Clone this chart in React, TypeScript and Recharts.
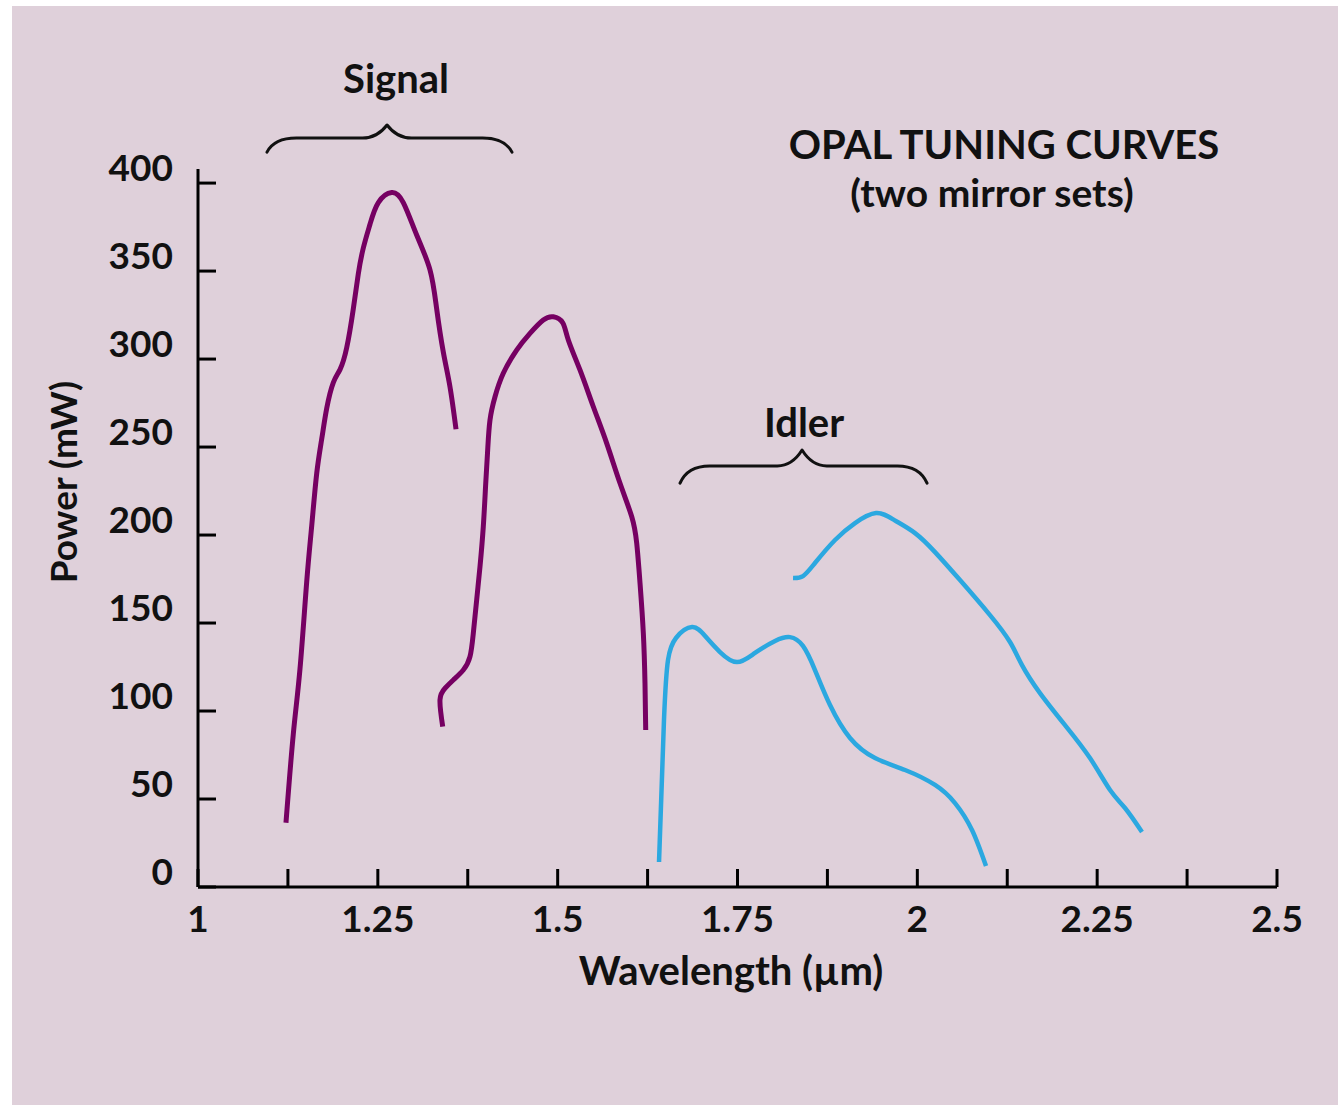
import React from 'react';
import { LineChart, Line, XAxis, YAxis, ReferenceArea, ReferenceDot } from 'recharts';

// Signal, mirror set 1
const signalSetA = [
  { x: 1.1223, y: 36.5 }, { x: 1.1325, y: 87.0 }, { x: 1.1418, y: 124.0 }, { x: 1.1511, y: 173.3 },
  { x: 1.1581, y: 205.3 }, { x: 1.165, y: 234.9 }, { x: 1.172, y: 254.6 }, { x: 1.1789, y: 271.9 },
  { x: 1.1881, y: 286.6 }, { x: 1.1974, y: 294.0 }, { x: 1.2067, y: 306.4 }, { x: 1.2159, y: 328.5 },
  { x: 1.2228, y: 348.3 }, { x: 1.2298, y: 363.1 }, { x: 1.2391, y: 376.6 }, { x: 1.2507, y: 388.9 },
  { x: 1.2693, y: 394.6 }, { x: 1.2854, y: 388.9 }, { x: 1.304, y: 370.5 }, { x: 1.3225, y: 350.7 },
  { x: 1.3318, y: 328.5 }, { x: 1.341, y: 304.0 }, { x: 1.3503, y: 284.2 }, { x: 1.3587, y: 260.1 },
];

// Signal, mirror set 2
const signalSetB = [
  { x: 1.3402, y: 91.1 }, { x: 1.3364, y: 106.3 }, { x: 1.3434, y: 112.9 }, { x: 1.3549, y: 117.6 },
  { x: 1.3688, y: 123.3 }, { x: 1.3781, y: 130.9 }, { x: 1.3827, y: 144.1 }, { x: 1.3874, y: 163.1 },
  { x: 1.392, y: 182.0 }, { x: 1.3966, y: 204.7 }, { x: 1.4, y: 229.4 }, { x: 1.4027, y: 248.3 },
  { x: 1.4059, y: 265.3 }, { x: 1.4129, y: 278.6 }, { x: 1.4244, y: 291.9 }, { x: 1.443, y: 305.1 },
  { x: 1.4615, y: 314.6 }, { x: 1.48, y: 322.2 }, { x: 1.494, y: 324.0 }, { x: 1.507, y: 320.6 },
  { x: 1.5148, y: 310.8 }, { x: 1.531, y: 293.8 }, { x: 1.5496, y: 272.9 }, { x: 1.5682, y: 252.1 },
  { x: 1.5867, y: 229.4 }, { x: 1.603, y: 210.4 }, { x: 1.6099, y: 195.3 }, { x: 1.6145, y: 172.6 },
  { x: 1.6191, y: 144.1 }, { x: 1.6214, y: 115.7 }, { x: 1.6224, y: 89.2 },
];

// Idler, mirror set 2
const idlerSetB = [
  { x: 1.6409, y: 14.2 }, { x: 1.6478, y: 94.9 }, { x: 1.6534, y: 129.0 }, { x: 1.6645, y: 141.5 },
  { x: 1.6868, y: 147.7 }, { x: 1.705, y: 142.6 }, { x: 1.7257, y: 133.5 }, { x: 1.7493, y: 127.8 },
  { x: 1.7743, y: 133.0 }, { x: 1.8022, y: 139.8 }, { x: 1.823, y: 142.0 }, { x: 1.841, y: 137.0 },
  { x: 1.8577, y: 123.3 }, { x: 1.8786, y: 103.4 }, { x: 1.9064, y: 84.7 }, { x: 1.9412, y: 73.3 },
  { x: 1.9829, y: 66.5 }, { x: 2.0246, y: 58.0 }, { x: 2.0524, y: 47.7 }, { x: 2.076, y: 32.4 },
  { x: 2.0955, y: 11.9 },
];

// Idler, mirror set 1
const idlerSetA = [
  { x: 1.8272, y: 175.6 }, { x: 1.8411, y: 176.7 }, { x: 1.8577, y: 184.1 }, { x: 1.8856, y: 197.2 },
  { x: 1.9134, y: 206.8 }, { x: 1.9426, y: 212.5 }, { x: 1.968, y: 208.5 }, { x: 1.9968, y: 201.1 },
  { x: 2.0246, y: 190.3 }, { x: 2.0593, y: 174.4 }, { x: 2.101, y: 154.5 }, { x: 2.1288, y: 139.2 },
  { x: 2.1455, y: 126.1 }, { x: 2.1705, y: 110.2 }, { x: 2.2053, y: 92.0 }, { x: 2.24, y: 73.3 },
  { x: 2.2679, y: 55.1 }, { x: 2.2887, y: 44.9 }, { x: 2.3123, y: 31.3 },
];

const xTicks = [1, 1.125, 1.25, 1.375, 1.5, 1.625, 1.75, 1.875, 2, 2.125, 2.25, 2.375, 2.5];
const xLabeled = [1, 1.25, 1.5, 1.75, 2, 2.25, 2.5];
const yTicks = [0, 50, 100, 150, 200, 250, 300, 350, 400];

const braces = [
  { name: 'Signal', x1: 1.0959, x2: 1.4365, y1: 417.6, y2: 433.0, peak: 0.49 },
  { name: 'Idler', x1: 1.6701, x2: 2.0135, y1: 229.5, y2: 248.3, peak: 0.494 },
];

const texts = [
  { text: 'Signal', x: 1.2753, y: 451.1, size: 40 },
  { text: 'Idler', x: 1.8425, y: 255.7, size: 40 },
  { text: 'OPAL TUNING CURVES', x: 2.1205, y: 413.6, size: 40 },
  { text: '(two mirror sets)', x: 2.1038, y: 386.4, size: 39 },
  { text: 'Wavelength (µm)', x: 1.741, y: -55.7, size: 40 },
];

const SIGNAL = '#760062';
const IDLER = '#2ba8e0';
const FONT = 'Lato, "DejaVu Sans", sans-serif';

const XTick = (props: any) => {
  const { x, y, payload } = props;
  const v = payload.value;
  const show = xLabeled.some((t) => Math.abs(t - v) < 1e-6);
  return (
    <g>
      <line x1={x} y1={y} x2={x} y2={y - 18} stroke="#000" strokeWidth={3} />
      {show && (
        <text x={x} y={y + 45} textAnchor="middle" fontFamily={FONT} fontWeight={700} fontSize={37} fill="#111">
          {String(v)}
        </text>
      )}
    </g>
  );
};

const YTick = (props: any) => {
  const { x, y, payload } = props;
  return (
    <g>
      <line x1={x} y1={y} x2={x + 18} y2={y} stroke="#000" strokeWidth={3} />
      <text x={x - 25} y={y - 2} textAnchor="end" fontFamily={FONT} fontWeight={700} fontSize={37} fill="#111">
        {String(payload.value)}
      </text>
    </g>
  );
};

const BraceShape = (peak: number) => (props: any) => {
  const { x, y, width: w, height: h } = props;
  const fy = y + h * 0.48;
  const xm = x + w * peak;
  const d = `M ${x} ${y + h} Q ${x + 0.03 * w} ${fy} ${x + 0.12 * w} ${fy} L ${xm - 0.1 * w} ${fy} Q ${xm - 0.04 * w} ${fy} ${xm} ${y} Q ${xm + 0.04 * w} ${fy} ${xm + 0.1 * w} ${fy} L ${x + 0.88 * w} ${fy} Q ${x + 0.97 * w} ${fy} ${x + w} ${y + h}`;
  return <path d={d} fill="none" stroke="#111" strokeWidth={3} strokeLinecap="round" strokeLinejoin="round" />;
};

const TextShape = (t: { text: string; size: number }) => (props: any) => (
  <text x={props.cx} y={props.cy} textAnchor="middle" fontFamily={FONT} fontWeight={700} fontSize={t.size} fill="#111">
    {t.text}
  </text>
);

const YTitle = (props: any) => (
  <text
    x={props.cx}
    y={props.cy}
    textAnchor="middle"
    fontFamily={FONT}
    fontWeight={700}
    fontSize={37}
    fill="#111"
    transform={`rotate(-90 ${props.cx} ${props.cy})`}
  >
    Power (mW)
  </text>
);

export default function App() {
  return (
    <div style={{ position: 'absolute', left: 0, top: 0, width: 1338, height: 1105, background: '#fff', overflow: 'hidden' }}>
      <div style={{ position: 'absolute', left: 12, top: 6, width: 1326, height: 1099, background: '#dfd0da' }} />
      <div style={{ position: 'absolute', left: 0, top: 0 }}>
        <LineChart width={1338} height={1105} margin={{ left: 188, right: 61, top: 169, bottom: 208 }}>
          <XAxis
            type="number"
            dataKey="x"
            domain={[1, 2.5]}
            ticks={xTicks}
            interval={0}
            tickSize={0}
            tickMargin={0}
            height={10}
            allowDataOverflow
            axisLine={{ stroke: '#000', strokeWidth: 3 }}
            tickLine={false}
            tick={<XTick />}
          />
          <YAxis
            type="number"
            dataKey="y"
            domain={[0, 408]}
            ticks={yTicks}
            interval={0}
            tickSize={0}
            tickMargin={0}
            width={10}
            allowDataOverflow
            axisLine={{ stroke: '#000', strokeWidth: 3 }}
            tickLine={false}
            tick={<YTick />}
          />
          <Line data={signalSetA} dataKey="y" type="natural" stroke={SIGNAL} strokeWidth={5} dot={false} activeDot={false} isAnimationActive={false} strokeLinejoin="round" />
          <Line data={signalSetB} dataKey="y" type="natural" stroke={SIGNAL} strokeWidth={5} dot={false} activeDot={false} isAnimationActive={false} strokeLinejoin="round" />
          <Line data={idlerSetB} dataKey="y" type="natural" stroke={IDLER} strokeWidth={4.5} dot={false} activeDot={false} isAnimationActive={false} strokeLinejoin="round" />
          <Line data={idlerSetA} dataKey="y" type="natural" stroke={IDLER} strokeWidth={4.5} dot={false} activeDot={false} isAnimationActive={false} strokeLinejoin="round" />
          {braces.map((b) => (
            <ReferenceArea key={b.name} x1={b.x1} x2={b.x2} y1={b.y1} y2={b.y2} ifOverflow="visible" shape={BraceShape(b.peak)} />
          ))}
          {texts.map((t) => (
            <ReferenceDot key={t.text} x={t.x} y={t.y} r={0} ifOverflow="visible" shape={TextShape(t)} />
          ))}
          <ReferenceDot x={0.8318} y={230.1} r={0} ifOverflow="visible" shape={YTitle} />
        </LineChart>
      </div>
    </div>
  );
}
